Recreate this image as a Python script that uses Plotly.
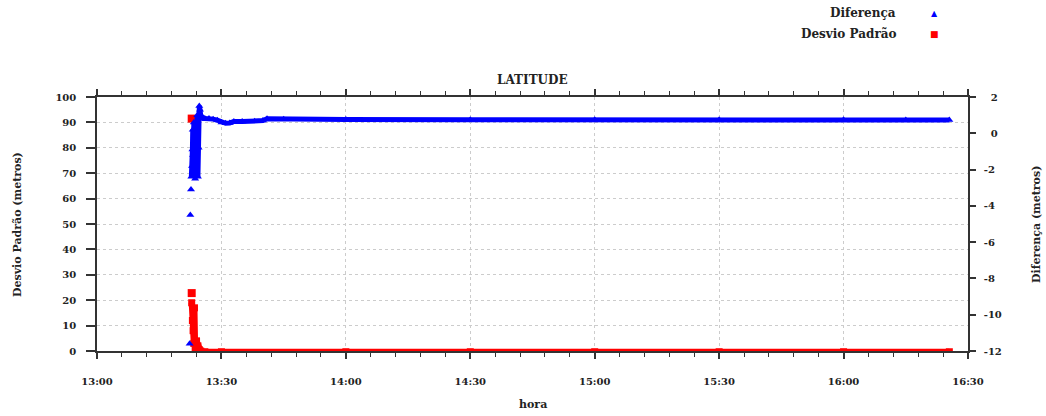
import plotly.graph_objects as go

D = "2000-01-01 "

# Diferença (right axis, metres) -- isolated early points
dif_iso_time = ["13:22:20", "13:22:30", "13:22:40"]
dif_iso_vals = [-11.6, -4.5, -3.1]

# Diferença main series
dif_time = ["13:22:45", "13:22:55", "13:23:00", "13:23:05", "13:23:10", "13:23:15", "13:23:20",
            "13:23:30", "13:23:40", "13:23:50", "13:24:00", "13:24:10", "13:24:20", "13:24:30",
            "13:24:40", "13:24:50", "13:25:00", "13:25:20", "13:25:40", "13:26:00", "13:27:00",
            "13:28:00", "13:29:00", "13:30:00", "13:31:00", "13:32:00", "13:33:00", "13:35:00",
            "13:38:00", "13:40:00", "13:41:00", "13:45:00", "14:00:00", "14:30:00", "15:00:00",
            "15:30:00", "16:00:00", "16:15:00", "16:25:30"]
dif_vals = [-2.4, -1.8, -0.9, 0.2, -1.2, -2.2, 0.6,
            -0.5, -2.5, -1.5, 0.3, 1.0, -2.4, -0.8,
            1.5, 1.3, 1.0, 0.85, 0.82, 0.82, 0.82,
            0.78, 0.72, 0.6, 0.55, 0.57, 0.65, 0.65,
            0.66, 0.7, 0.8, 0.78, 0.76, 0.75, 0.75,
            0.74, 0.74, 0.73, 0.73]

# Desvio Padrão (left axis, metres) -- isolated early points
dp_iso_time = ["13:22:50", "13:22:50"]
dp_iso_vals = [91.5, 22.8]

# Desvio Padrão main series
dp_time = ["13:22:50", "13:23:00", "13:23:10", "13:23:20", "13:23:30", "13:23:40", "13:24:00",
           "13:24:20", "13:24:40", "13:25:00", "13:26:00", "13:30:00", "14:00:00", "14:30:00",
           "15:00:00", "15:30:00", "16:00:00", "16:25:30"]
dp_vals = [19, 12, 8, 3, 17, 1, 4,
           2, 0.5, 0, -0.3, -0.3, -0.3, -0.3,
           -0.3, -0.3, -0.3, -0.3]

BLUE = "#0000ff"
RED = "#ff0000"
AX = "#333333"
FONT = "DejaVu Serif"

fig = go.Figure()
fig.add_trace(go.Scatter(x=[D + t for t in dp_time], y=dp_vals, mode="lines+markers",
                         line=dict(color=RED, width=6), marker=dict(symbol="square", size=7, color=RED),
                         yaxis="y", showlegend=False))
fig.add_trace(go.Scatter(x=[D + t for t in dp_iso_time], y=dp_iso_vals, mode="markers",
                         marker=dict(symbol="square", size=8, color=RED), yaxis="y", showlegend=False))
fig.add_trace(go.Scatter(x=[D + t for t in dif_time], y=dif_vals, mode="lines+markers",
                         line=dict(color=BLUE, width=5), marker=dict(symbol="triangle-up", size=7, color=BLUE),
                         yaxis="y2", showlegend=False))
fig.add_trace(go.Scatter(x=[D + t for t in dif_iso_time], y=dif_iso_vals, mode="markers",
                         marker=dict(symbol="triangle-up", size=7, color=BLUE), yaxis="y2", showlegend=False))

tickfont = dict(family=FONT, size=10, color="#222", weight="bold")

fig.update_layout(
    width=1046, height=416,
    margin=dict(l=97, r=78, t=97, b=65),
    paper_bgcolor="white", plot_bgcolor="white",
    showlegend=False,
    xaxis=dict(
        type="date", range=[D + "13:00", D + "16:30"],
        dtick=1800000, tick0=D + "13:00", tickformat="%H:%M",
        showline=True, linecolor=AX, linewidth=1.5, mirror="ticks",
        ticks="outside", ticklen=6, tickwidth=1.5, tickcolor=AX,
        minor=dict(dtick=360000, ticks="outside", ticklen=4, tickwidth=1, tickcolor=AX, showgrid=False),
        showgrid=True, gridcolor="#cccccc", griddash="dot", gridwidth=1,
        zeroline=False, tickfont=tickfont, ticklabelstandoff=14,
    ),
    yaxis=dict(
        range=[0, 100], dtick=10,
        showline=True, linecolor=AX, linewidth=1.5,
        ticks="outside", ticklen=9, tickwidth=1.5, tickcolor=AX,
        showgrid=True, gridcolor="#cccccc", griddash="dot", gridwidth=1,
        zeroline=False, tickfont=tickfont, ticklabelstandoff=8,
    ),
    yaxis2=dict(
        range=[-12, 2], dtick=2, overlaying="y", side="right",
        tickvals=[-12, -10, -8, -6, -4, -2, 0, 2],
        ticktext=["-12", "-10", "-8", "-6", "-4", "-2", "\u20070", "\u20072"],
        showline=True, linecolor=AX, linewidth=1.5,
        ticks="outside", ticklen=6, tickwidth=1.5, tickcolor=AX,
        showgrid=False, zeroline=False, tickfont=tickfont, ticklabelstandoff=6,
    ),
)

lab = dict(family=FONT, size=12, color="#222", weight="bold")
axlab = dict(family=FONT, size=11, color="#222", weight="bold")
ann = [
    dict(text="LATITUDE", x=0.5, y=(351 - 80) / 254, xref="paper", yref="paper",
         xanchor="center", yanchor="middle", showarrow=False, font=lab),
    dict(text="hora", x=0.5, y=(351 - 404) / 254, xref="paper", yref="paper",
         xanchor="center", yanchor="middle", showarrow=False, font=axlab),
    dict(text="Desvio Padrão (metros)", x=(17 - 97) / 871, y=(351 - 225) / 254, xref="paper", yref="paper",
         xanchor="center", yanchor="middle", textangle=-90, showarrow=False, font=axlab),
    dict(text="Diferença (metros)", x=(1036 - 97) / 871, y=(351 - 225) / 254, xref="paper", yref="paper",
         xanchor="center", yanchor="middle", textangle=-90, showarrow=False, font=axlab),
    dict(text="Diferença", x=(898 - 97) / 871, y=(351 - 13) / 254, xref="paper", yref="paper",
         xanchor="right", yanchor="middle", showarrow=False, font=lab),
    dict(text="Desvio Padrão", x=(898 - 97) / 871, y=(351 - 34) / 254, xref="paper", yref="paper",
         xanchor="right", yanchor="middle", showarrow=False, font=lab),
    dict(text="▲", x=(934 - 97) / 871, y=(351 - 14) / 254, xref="paper", yref="paper",
         xanchor="center", yanchor="middle", showarrow=False, font=dict(family="DejaVu Sans", size=8, color=BLUE)),
    dict(text="■", x=(934 - 97) / 871, y=(351 - 34) / 254, xref="paper", yref="paper",
         xanchor="center", yanchor="middle", showarrow=False, font=dict(family="DejaVu Sans", size=9, color=RED)),
]
fig.update_layout(annotations=ann)

fig.write_html(
    "out.html",
    config={"displayModeBar": False},
    post_script="document.body.style.margin='0';document.body.style.overflow='hidden';",
)
